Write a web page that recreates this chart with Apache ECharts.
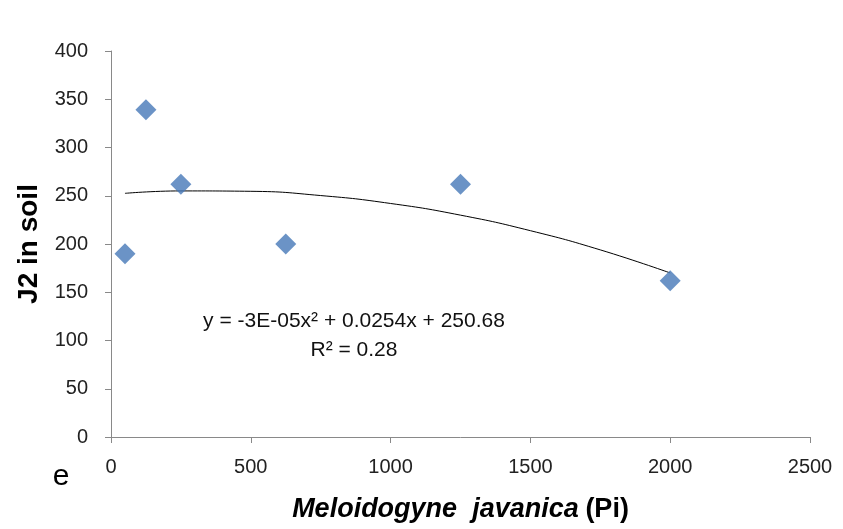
<!DOCTYPE html>
<html>
<head>
<meta charset="utf-8">
<script src="https://cdn.jsdelivr.net/npm/echarts@6/dist/echarts.min.js"></script>
<style>
html, body { margin: 0; padding: 0; background: #fff; }
#main { width: 843px; height: 529px; }
</style>
</head>
<body>
<div id="main"></div>
<script>
// observed points: Pi vs J2 in soil
var piValues = [50, 125, 250, 625, 1250, 2000];
var j2Values = [190, 339, 262, 200, 262, 162];

// polynomial trendline
var trendX = [50, 250, 500, 750, 1000, 1250, 1500, 1750, 2000];
var trendY = [252.5, 255, 254.6, 250.2, 242, 229.9, 213.8, 193.9, 170];

var equationText = 'y = -3E-05x\u00B2 + 0.0254x + 250.68';
var r2Text = 'R\u00B2 = 0.28';

var dom = document.getElementById('main');
var myChart = echarts.init(dom);

var axisColor = '#898989';
var labelFont = '"Liberation Sans", Arial, sans-serif';

var option = {
    animation: false,
    grid: {
        left: 111,
        right: 33,
        top: 51,
        bottom: 92
    },
    xAxis: {
        type: 'value',
        min: 0,
        max: 2500,
        interval: 500,
        splitLine: { show: false },
        axisLine: { show: true, onZero: false, lineStyle: { color: axisColor, width: 1 } },
        axisTick: { show: true, length: 6, lineStyle: { color: axisColor } },
        axisLabel: {
            margin: 20, fontSize: 20, color: '#222', fontFamily: labelFont,
            formatter: function (v) { return String(v); }
        },
        name: '{it|Meloidogyne  javanica}  {nm|(Pi)}',
        nameLocation: 'middle',
        nameGap: 59,
        nameTextStyle: {
            rich: {
                it: { fontSize: 27, fontWeight: 'bold', fontStyle: 'italic', color: '#000', fontFamily: labelFont },
                nm: { fontSize: 27, fontWeight: 'bold', color: '#000', fontFamily: labelFont }
            }
        }
    },
    yAxis: {
        type: 'value',
        min: 0,
        max: 400,
        interval: 50,
        splitLine: { show: false },
        axisLine: { show: true, lineStyle: { color: axisColor, width: 1 } },
        axisTick: { show: true, length: 6, lineStyle: { color: axisColor } },
        axisLabel: { margin: 23, fontSize: 20, color: '#222', fontFamily: labelFont },
        name: 'J2 in soil',
        nameLocation: 'middle',
        nameGap: 68,
        nameTextStyle: { fontSize: 28, fontWeight: 'bold', color: '#000', fontFamily: labelFont }
    },
    graphic: [
        {
            type: 'text',
            x: 354,
            y: 321,
            style: {
                text: equationText, fill: '#111', align: 'center', verticalAlign: 'middle',
                font: '21px "Liberation Sans", Arial, sans-serif'
            }
        },
        {
            type: 'text',
            x: 354,
            y: 350,
            style: {
                text: r2Text, fill: '#111', align: 'center', verticalAlign: 'middle',
                font: '21px "Liberation Sans", Arial, sans-serif'
            }
        },
        {
            type: 'text',
            x: 61,
            y: 477,
            style: {
                text: 'e', fill: '#000', align: 'center', verticalAlign: 'middle',
                font: '30px "Liberation Sans", Arial, sans-serif'
            }
        }
    ],
    series: [
        {
            type: 'line',
            data: trendX.map(function (x, i) { return [x, trendY[i]]; }),
            smooth: true,
            showSymbol: false,
            lineStyle: { color: '#000', width: 1 },
            z: 2
        },
        {
            type: 'scatter',
            data: piValues.map(function (x, i) { return [x, j2Values[i]]; }),
            symbol: 'diamond',
            symbolSize: [21, 21],
            itemStyle: { color: '#4678b8' },
            z: 3
        }
    ]
};

myChart.setOption(option);
</script>
</body>
</html>
